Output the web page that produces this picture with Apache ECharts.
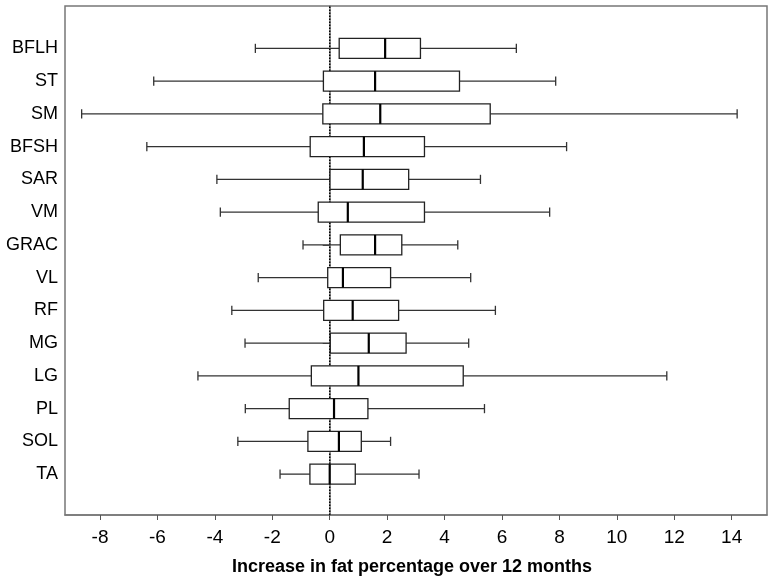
<!DOCTYPE html>
<html><head><meta charset="utf-8">
<script src="https://cdn.jsdelivr.net/npm/echarts@6/dist/echarts.min.js"></script>
<style>html,body{margin:0;padding:0;background:#fff}#c{width:774px;height:582px}</style>
</head><body><div id="c"></div>
<script>
const categories = ['BFLH','ST','SM','BFSH','SAR','VM','GRAC','VL','RF','MG','LG','PL','SOL','TA'];
const whiskerLow  = [-2.59, -6.13, -8.64, -6.37, -3.93, -3.81, -0.93, -2.49, -3.41, -2.95, -4.59, -2.94, -3.20, -1.73];
const q1          = [ 0.33, -0.22, -0.24, -0.68,  0.01, -0.40,  0.37, -0.07, -0.21,  0.02, -0.64, -1.41, -0.76, -0.69];
const median      = [ 1.93,  1.58,  1.76,  1.19,  1.15,  0.63,  1.58,  0.46,  0.80,  1.36,  1.00,  0.15,  0.32,  0.00];
const q3          = [ 3.16,  4.52,  5.59,  3.30,  2.75,  3.30,  2.51,  2.12,  2.40,  2.66,  4.65,  1.33,  1.10,  0.89];
const whiskerHigh = [ 6.50,  7.87, 14.19,  8.25,  5.25,  7.66,  4.46,  4.91,  5.77,  4.84, 11.74,  5.39,  2.12,  3.11];
const xTicks = [-8, -6, -4, -2, 0, 2, 4, 6, 8, 10, 12, 14];
const xMin = -9.22, xMax = 15.23;
const referenceX = 0;
const xTitle = 'Increase in fat percentage over 12 months';

const boxData = categories.map((c, i) => [i, whiskerLow[i], q1[i], median[i], q3[i], whiskerHigh[i]]);
const FONT = '"Liberation Sans", Arial, sans-serif';

function renderBox(params, api) {
  const ci = api.value(0);
  const band = api.size([0, 1])[1];
  const hh = band * 0.305;
  const ch = band * 0.14;
  const pLo = api.coord([api.value(1), ci]);
  const pQ1 = api.coord([api.value(2), ci]);
  const pMd = api.coord([api.value(3), ci]);
  const pQ3 = api.coord([api.value(4), ci]);
  const pHi = api.coord([api.value(5), ci]);
  const y = pMd[1];
  const wStyle = {stroke: '#333', lineWidth: 1.3, fill: null};
  return {
    type: 'group',
    children: [
      {type: 'line', shape: {x1: pLo[0], y1: y, x2: pQ1[0], y2: y}, style: wStyle},
      {type: 'line', shape: {x1: pQ3[0], y1: y, x2: pHi[0], y2: y}, style: wStyle},
      {type: 'line', shape: {x1: pLo[0], y1: y - ch, x2: pLo[0], y2: y + ch}, style: wStyle},
      {type: 'line', shape: {x1: pHi[0], y1: y - ch, x2: pHi[0], y2: y + ch}, style: wStyle},
      {type: 'rect', shape: {x: pQ1[0], y: y - hh, width: pQ3[0] - pQ1[0], height: 2 * hh},
        style: {stroke: '#222', lineWidth: 1.3, fill: '#fff'}},
      {type: 'line', shape: {x1: pMd[0], y1: y - hh, x2: pMd[0], y2: y + hh},
        style: {stroke: '#000', lineWidth: 2.2}}
    ]
  };
}

const chart = echarts.init(document.getElementById('c'), null, {renderer: 'canvas'});
chart.setOption({
  animation: false,
  backgroundColor: '#fff',
  grid: [
    {left: 65, right: 7, top: 6, bottom: 67, show: true, borderColor: '#777', borderWidth: 1.5, backgroundColor: 'transparent'},
    {left: 65, right: 7, top: 32, bottom: 91.5}
  ],
  xAxis: [
    {gridIndex: 0, type: 'value', min: xMin, max: xMax,
      splitLine: {show: false},
      axisLine: {show: true, lineStyle: {color: '#777', width: 1.5}},
      axisTick: {show: true, length: 5, lineStyle: {color: '#555'}, customValues: xTicks},
      axisLabel: {show: true, customValues: xTicks, fontSize: 19, color: '#000', fontFamily: FONT, margin: 13},
      name: xTitle, nameLocation: 'middle', nameGap: 43,
      nameTextStyle: {fontSize: 18, fontWeight: 'bold', color: '#000', fontFamily: FONT, padding: [0, 8, 0, 0]}
    },
    {gridIndex: 1, type: 'value', min: xMin, max: xMax, show: false, splitLine: {show: false}}
  ],
  yAxis: [
    {gridIndex: 0, type: 'value', min: 0, max: 1, splitLine: {show: false},
      axisLabel: {show: false}, axisTick: {show: false},
      axisLine: {show: true, lineStyle: {color: '#777', width: 1.5}}},
    {gridIndex: 1, type: 'category', data: categories, inverse: true,
      axisLine: {show: false},
      axisTick: {show: true, alignWithLabel: true, length: 7, lineStyle: {color: '#555', width: 1}},
      axisLabel: {fontSize: 18, color: '#000', fontFamily: FONT, margin: 7},
      splitLine: {show: false}}
  ],
  series: [
    {type: 'line', xAxisIndex: 0, yAxisIndex: 0, data: [[referenceX, 0], [referenceX, 1]],
      symbol: 'none', silent: true,
      lineStyle: {color: '#000', width: 1.5, type: [1.5, 1.5]}, z: 1},
    {type: 'custom', xAxisIndex: 1, yAxisIndex: 1, renderItem: renderBox,
      encode: {x: [1, 2, 3, 4, 5], y: 0}, data: boxData, z: 5}
  ]
});
</script></body></html>
